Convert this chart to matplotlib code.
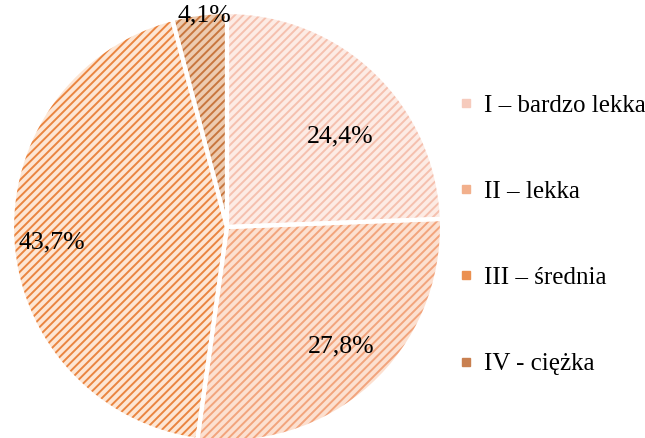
import matplotlib
matplotlib.use('Agg')
import matplotlib.pyplot as plt
from matplotlib.lines import Line2D
import numpy as np

# Data
labels = ['I – bardzo lekka', 'II – lekka', 'III – średnia', 'IV - ciężka']
values = [24.4, 27.8, 43.7, 4.1]
pct_text = ['24,4%', '27,8%', '43,7%', '4,1%']

# Style
base_colors = ['#fdebe4', '#fce0d0', '#fde6d4', '#edcbb0']
hatch_colors = ['#f5c0ae', '#f2a47c', '#ea8540', '#c8763e']
legend_colors = ['#f6cbbd', '#f2b08c', '#eb9050', '#c98050']
# label placement: angular offset from wedge middle (deg), radial distance
label_shift = [-7.3, 1.7, 1.5, -1.4]
label_dist = [0.675, 0.77, 0.82, 0.99]

plt.rcParams['font.family'] = ['Liberation Serif', 'DejaVu Serif']
plt.rcParams['hatch.linewidth'] = 1.4

fig = plt.figure(figsize=(6.45, 4.38), dpi=100)
W, H = 645, 438
cx, cy, r = 227, 227, 215
ax = fig.add_axes([(cx - r) / W, (H - cy - r) / H, 2 * r / W, 2 * r / H])

wedges, _ = ax.pie(values, startangle=90, counterclock=False, radius=1,
                   colors=base_colors, wedgeprops=dict(linewidth=0))
for w, hc in zip(wedges, hatch_colors):
    w.set_hatch('////')
    w.set_edgecolor(hc)
    w.set_linewidth(0)

# white borders on top
ax.pie(values, startangle=90, counterclock=False, radius=1,
       wedgeprops=dict(facecolor='none', edgecolor='white', linewidth=3))

for w, txt, s, d in zip(wedges, pct_text, label_shift, label_dist):
    ang = np.deg2rad((w.theta1 + w.theta2) / 2 + s)
    ax.text(d * np.cos(ang), d * np.sin(ang), txt, ha='center', va='center',
            fontsize=18.5, color='black')

ax.set_xlim(-1, 1)
ax.set_ylim(-1, 1)
ax.set_aspect('equal')
ax.axis('off')

handles = [Line2D([], [], marker='s', linestyle='none', markersize=5.5,
                  markerfacecolor=c, markeredgecolor=c) for c in legend_colors]
fig.legend(handles, labels, loc='upper left', bbox_to_anchor=(458 / W, 1 - 94 / H),
           frameon=False, fontsize=18, labelspacing=2.55, handlelength=0.6,
           handletextpad=0.45, borderpad=0, borderaxespad=0)

fig.savefig('out.png', dpi=100)
